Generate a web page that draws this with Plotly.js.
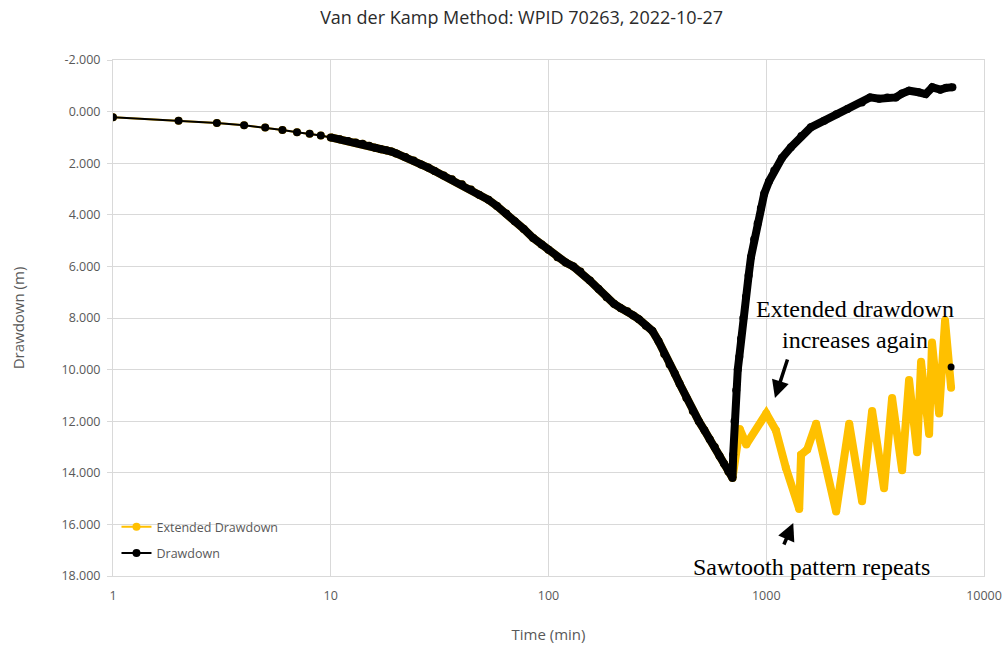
<!DOCTYPE html>
<html>
<head>
<meta charset="utf-8">
<script src="https://cdn.plot.ly/plotly-3.0.1.min.js"></script>
<style>html,body{margin:0;padding:0;background:#fff;}#chart{width:1005px;height:647px;}</style>
</head>
<body>
<div id="chart"></div>
<script>
// Pumping phase (shared by both series), time in minutes, drawdown in m
const pumpTime = [1,2,3,4,5,6,7,8,9,10,11,12,13,14,15,16,17,18,19,20,22,24,26,28,30,33,36,40,44,48,53,58,64,70,77,85,93,100,110,120,130,140,155,170,185,200,215,230,245,260,280,300,320,340,360,380,400,430,460,490,520,550,580,610,640,670,700];
const pumpDrawdown = [0.22,0.35,0.44,0.53,0.62,0.71,0.80,0.86,0.93,1.00,1.07,1.14,1.20,1.25,1.32,1.40,1.46,1.50,1.55,1.62,1.76,1.90,2.05,2.17,2.30,2.48,2.62,2.82,3.02,3.22,3.42,3.66,3.95,4.25,4.55,4.90,5.15,5.35,5.65,5.85,6.00,6.20,6.55,6.88,7.20,7.45,7.62,7.74,7.90,8.05,8.30,8.50,8.90,9.40,9.80,10.15,10.55,11.10,11.60,12.00,12.35,12.70,13.00,13.35,13.65,13.95,14.20];
// Recovery phase of the measured drawdown
const recoveryTime = [705,715,728,740,752,766,785,807,830,851,880,913,945,979,1030,1088,1180,1298,1450,1602,1846,2100,2361,2750,3000,3300,3600,3935,4200,4530,5000,5400,5790,6300,6700,7160];
const recoveryDrawdown = [13.3,12.0,10.8,10.0,9.5,8.8,8.0,7.18,6.35,5.64,4.95,4.34,3.75,3.18,2.7,2.28,1.8,1.38,0.95,0.61,0.35,0.1,-0.1,-0.35,-0.55,-0.5,-0.55,-0.55,-0.7,-0.81,-0.75,-0.68,-0.94,-0.85,-0.92,-0.94];
// Extended drawdown after pumping stops
const extTime = [755,810,1000,1107,1230,1417,1445,1542,1694,2094,2404,2754,3063,3475,3784,4206,4528,4929,5140,5596,5770,6220,6625,7060];
const extDrawdown = [12.3,12.9,11.7,12.35,13.8,15.4,13.3,13.1,12.1,15.5,12.1,15.1,11.6,14.6,11.1,13.9,10.4,13.2,9.7,12.5,8.95,11.7,8.1,10.7];
// Isolated point near the end
const endPointTime = [7060];
const endPointDrawdown = [9.9];

const xTickVals = [1,10,100,1000,10000];
const xTickText = ['1','10','100','1000','10000'];
const yTickVals = [-2,0,2,4,6,8,10,12,14,16,18];
const yTickText = ['-2.000','0.000','2.000','4.000','6.000','8.000','10.000','12.000','14.000','16.000','18.000'];

const YEL = '#FFC000', BLK = '#000000';
const bandStart = 9; // index from which markers are dense enough to form a band

const ddT = pumpTime.concat(recoveryTime), ddY = pumpDrawdown.concat(recoveryDrawdown);
const exT = pumpTime.concat(extTime), exY = pumpDrawdown.concat(extDrawdown);

const traces = [
  {x: exT, y: exY, name: 'Extended Drawdown', type: 'scatter', mode: 'lines+markers',
   legendgroup: 'a', line: {color: YEL, width: 2}, marker: {color: YEL, size: 8}},
  {x: exT.slice(bandStart), y: exY.slice(bandStart), type: 'scatter', mode: 'lines', showlegend: false,
   line: {color: YEL, width: 8}},
  {x: ddT, y: ddY, name: 'Drawdown', type: 'scatter', mode: 'lines+markers',
   legendgroup: 'b', line: {color: BLK, width: 2}, marker: {color: BLK, size: 8}},
  {x: ddT.slice(bandStart), y: ddY.slice(bandStart), type: 'scatter', mode: 'lines', showlegend: false,
   line: {color: BLK, width: 8}},
  {x: endPointTime, y: endPointDrawdown, type: 'scatter', mode: 'markers', showlegend: false,
   marker: {color: BLK, size: 7}}
];

const FONT = '"Open Sans", "Liberation Sans", sans-serif';
const SERIF = '"Liberation Serif", "Times New Roman", serif';
const GRID = '#d9d9d9', TXT = '#595959';

const layout = {
  width: 1005, height: 647,
  margin: {l: 113, r: 21, t: 60, b: 71},
  paper_bgcolor: '#fff', plot_bgcolor: '#fff',
  font: {family: FONT, color: TXT, size: 12.5},
  title: {text: 'Van der Kamp Method: WPID 70263, 2022-10-27', x: 0.519, xanchor: 'center',
          y: 0.972, yanchor: 'middle', font: {family: FONT, size: 18, color: '#2b2b2b'}},
  xaxis: {type: 'log', range: [0, 4], tickvals: xTickVals, ticktext: xTickText,
          showgrid: true, gridcolor: GRID, gridwidth: 1, showline: true, linecolor: GRID, mirror: true,
          ticks: '', ticklabelstandoff: 8, zeroline: false,
          tickfont: {size: 12.5, color: TXT},
          title: {text: 'Time (min)', font: {size: 15, color: TXT}, standoff: 26}},
  yaxis: {range: [18, -2], tickvals: yTickVals, ticktext: yTickText,
          showgrid: true, gridcolor: GRID, gridwidth: 1, showline: true, linecolor: GRID, mirror: true,
          ticks: 'outside', ticklen: 5, tickcolor: GRID, ticklabelstandoff: 4, zeroline: false,
          tickfont: {size: 12.5, color: TXT},
          title: {text: 'Drawdown (m)', font: {size: 15, color: TXT}, standoff: 33}},
  legend: {x: 0.004, xanchor: 'left', y: 0.124, yanchor: 'top', bgcolor: 'rgba(0,0,0,0)',
           traceorder: 'grouped', tracegroupgap: 7, font: {size: 12.5, color: TXT}},
  hovermode: false,
  annotations: [
    {xref: 'paper', yref: 'paper', x: 0.852, y: 0.488, xanchor: 'center', yanchor: 'middle',
     text: 'Extended drawdown<br>increases again',
     showarrow: false, font: {family: SERIF, size: 24, color: '#000'}, align: 'center'},
    {xref: 'paper', yref: 'paper', x: 0.8025, y: 0.0174, xanchor: 'center', yanchor: 'middle',
     text: 'Sawtooth pattern repeats',
     showarrow: false, font: {family: SERIF, size: 24, color: '#000'}},
    {xref: 'paper', yref: 'paper', x: 0.760, y: 0.345, text: '', showarrow: true,
     ax: 13, ay: -40, arrowhead: 2, arrowsize: 1, arrowwidth: 3.5, arrowcolor: '#000'},
    {xref: 'paper', yref: 'paper', x: 0.781, y: 0.1027, text: '', showarrow: true,
     ax: -10, ay: 23, arrowhead: 2, arrowsize: 1, arrowwidth: 3.5, arrowcolor: '#000'}
  ]
};

Plotly.newPlot('chart', traces, layout, {displayModeBar: false, staticPlot: true});
</script>
</body>
</html>
